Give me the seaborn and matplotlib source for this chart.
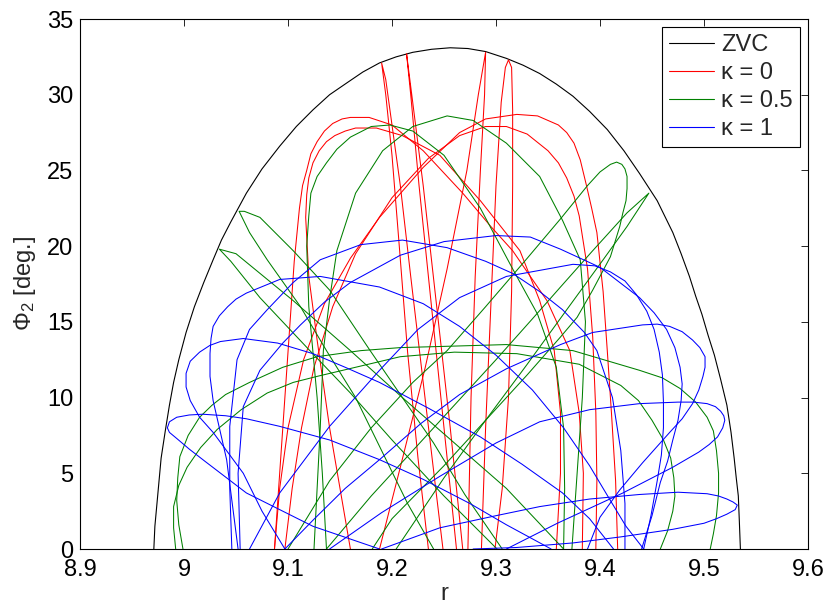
import pandas as pd
import matplotlib
matplotlib.use('Agg')
import matplotlib.pyplot as plt
from matplotlib.lines import Line2D
import seaborn as sns

# Zero velocity curve
zvc_r = [8.971, 8.972, 8.974, 8.976, 8.978, 8.982, 8.986, 8.99, 8.995, 9.002, 9.01, 9.019, 9.028,
         9.036, 9.045, 9.06, 9.075, 9.092, 9.108, 9.124, 9.14, 9.157, 9.172, 9.188, 9.204, 9.22,
         9.238, 9.256, 9.273, 9.29, 9.31, 9.326, 9.342, 9.358, 9.374, 9.39, 9.407, 9.423, 9.438,
         9.455, 9.47, 9.478, 9.486, 9.492, 9.498, 9.504, 9.51, 9.516, 9.522, 9.526, 9.529, 9.531,
         9.533, 9.534, 9.535]
zvc_phi = [0, 1.5, 3, 4.5, 6, 7.8, 9.5, 11, 12.5, 14.3, 16, 17.6, 19.1, 20.4, 21.6, 23.5, 25.1,
           26.6, 27.9, 29.0, 30.0, 30.8, 31.5, 32.1, 32.5, 32.8, 33.0, 33.1, 33.05, 32.85, 32.4,
           31.95, 31.4, 30.7, 29.9, 28.9, 27.7, 26.3, 24.8, 23.0, 20.9, 19.5, 18.0, 16.7, 15.5,
           14.1, 12.8, 11.2, 9.5, 7.7, 6.0, 4.7, 3.5, 1.8, 0]

# kappa = 0 trajectory arcs
red_r = [
    [9.087, 9.092, 9.097, 9.102, 9.106, 9.111, 9.114, 9.118, 9.122, 9.128, 9.135, 9.143, 9.152,
     9.16, 9.178, 9.2, 9.23, 9.268, 9.295, 9.316, 9.349, 9.371, 9.38, 9.384, 9.383],
    [9.16, 9.15, 9.14, 9.128, 9.12, 9.117, 9.118, 9.12, 9.124, 9.13, 9.137, 9.145, 9.155, 9.165,
     9.185, 9.21, 9.246, 9.285, 9.323, 9.342, 9.356, 9.362, 9.362, 9.358],
    [9.087, 9.092, 9.1, 9.115, 9.135, 9.16, 9.188, 9.23, 9.265, 9.29, 9.32, 9.34, 9.36, 9.368,
     9.375, 9.381, 9.387, 9.392, 9.397, 9.403, 9.407, 9.411, 9.415, 9.417],
    [9.097, 9.104, 9.113, 9.125, 9.143, 9.165, 9.2, 9.235, 9.265, 9.29, 9.31, 9.33, 9.35, 9.36,
     9.368, 9.375, 9.38, 9.388, 9.393, 9.396, 9.397, 9.396],
    [9.235, 9.225, 9.215, 9.207, 9.2, 9.194, 9.19, 9.194, 9.2, 9.208, 9.218, 9.23, 9.242, 9.249],
    [9.262, 9.25, 9.238, 9.226, 9.218, 9.214, 9.219, 9.23, 9.243, 9.256, 9.268],
    [9.188, 9.208, 9.232, 9.253, 9.272, 9.283, 9.29, 9.289, 9.285, 9.28, 9.276, 9.273],
    [9.286, 9.29, 9.295, 9.3, 9.305, 9.309, 9.312, 9.315, 9.316, 9.316, 9.315, 9.312, 9.306, 9.299],
]
red_phi = [
    [0, 5, 10, 15, 19, 22.5, 24, 25, 26.1, 26.9, 27.6, 28.1, 28.4, 28.5, 28.5, 28.0, 26.3, 23.5,
     21.3, 19.7, 16.4, 13.1, 9, 5, 0],
    [0, 4, 8, 13.8, 18, 21.9, 23.4, 24.5, 25.5, 26.3, 26.9, 27.3, 27.6, 27.8, 27.8, 27.3, 26.0,
     23, 19.7, 16.4, 13.1, 9, 5, 0],
    [0, 4, 8, 12.5, 16.2, 19.2, 21.9, 25.2, 27.5, 28.4, 28.7, 28.6, 28.0, 27.5, 26.8, 25.7, 24,
     22.5, 20.9, 17, 13.1, 9, 4.5, 0],
    [0, 4, 8, 12, 16, 19.5, 23.2, 25.8, 27.3, 27.9, 27.9, 27.4, 26.3, 25.5, 24.5, 23.3, 22, 18.5,
     14, 9, 4.5, 0],
    [0, 6, 13, 20, 26, 30, 32.1, 31, 28, 24, 18, 11, 4, 0],
    [0, 8, 16, 24, 30, 32.7, 30, 24, 16, 8, 0],
    [0, 5.4, 12, 18.5, 25, 30, 32.8, 30, 25, 18, 10, 0],
    [0, 8, 16, 24, 29.5, 31.8, 32.3, 31.8, 29, 24, 17, 10, 4, 0],
]

# kappa = 0.5 trajectory arcs
green_r = [
    [9.24, 9.215, 9.19, 9.165, 9.137, 9.112, 9.08, 9.063, 9.053, 9.058, 9.073, 9.105, 9.14, 9.179,
     9.21, 9.24, 9.27, 9.306],
    [9.301, 9.25, 9.2, 9.16, 9.121, 9.073, 9.045, 9.034, 9.05, 9.105, 9.16, 9.21, 9.26, 9.31, 9.365],
    [9.10, 9.14, 9.18, 9.22, 9.253, 9.29, 9.33, 9.362, 9.388, 9.4, 9.41, 9.416, 9.421, 9.424,
     9.426, 9.426, 9.425, 9.422, 9.419, 9.41, 9.393, 9.378, 9.362, 9.33, 9.29, 9.25, 9.2, 9.181],
    [9.137, 9.18, 9.22, 9.26, 9.3, 9.335, 9.362, 9.393, 9.426, 9.447, 9.426, 9.403, 9.368, 9.33,
     9.29, 9.25, 9.204],
    [9.125, 9.128, 9.131, 9.134, 9.14, 9.147, 9.165, 9.191, 9.22, 9.253, 9.278, 9.31, 9.342, 9.364,
     9.381, 9.386, 9.383, 9.378, 9.373],
    [9.137, 9.133, 9.128, 9.12, 9.118, 9.12, 9.122, 9.128, 9.137, 9.147, 9.16, 9.18, 9.198, 9.22,
     9.25, 9.285, 9.316, 9.34, 9.358, 9.365, 9.366, 9.365],
    [8.999, 8.995, 8.993, 8.994, 8.996, 9.004, 9.015, 9.027, 9.04, 9.063, 9.095, 9.128, 9.17, 9.208,
     9.26, 9.31, 9.374, 9.438, 9.46, 9.477, 9.492, 9.503, 9.509, 9.512, 9.514, 9.514, 9.512,
     9.509, 9.506],
    [8.992, 8.99, 8.99, 8.995, 9.003, 9.016, 9.032, 9.055, 9.08, 9.105, 9.128, 9.208, 9.26, 9.32,
     9.38, 9.42, 9.437, 9.45, 9.461, 9.468, 9.471, 9.472, 9.47, 9.465, 9.458],
]
green_phi = [
    [0, 3, 6.5, 10, 13.1, 16, 19.1, 20.9, 22.3, 22.3, 21.9, 19.7, 17.1, 13.1, 10, 7, 3.6, 0],
    [0, 3.5, 7.2, 10.3, 13.1, 16.6, 19, 19.8, 19.5, 16.4, 13.1, 10, 7, 4, 0],
    [0, 4.5, 8, 11, 13.1, 16, 19.2, 21.8, 24, 24.9, 25.4, 25.55, 25.4, 25.1, 24.6, 23.8, 23,
     22.2, 21.3, 19.3, 17.1, 15.3, 14, 11.5, 8.5, 5.5, 2, 0],
    [0, 3.5, 6.5, 9.5, 12.5, 15.2, 17.3, 19.7, 22.2, 23.5, 21.3, 19.1, 15.8, 12.2, 8.5, 4.7, 0],
    [0, 4, 8, 13.1, 16.5, 19.7, 23.5, 26.3, 27.9, 28.6, 28.3, 26.8, 24.6, 21.7, 19.1, 15, 10, 5, 0],
    [0, 5, 10, 16, 20, 22, 23.5, 24.6, 25.5, 26.4, 27.2, 27.9, 28, 27.6, 26, 22.5, 18.5, 15.5,
     12, 8, 4, 0],
    [0, 1.6, 3.2, 4.7, 6.1, 7.5, 8.7, 9.5, 10.2, 11.0, 12, 12.7, 13.1, 13.3, 13.4, 13.5, 13.1,
     11.8, 11.3, 10.6, 9.7, 8.7, 7.8, 6.5, 5, 3.7, 2.2, 1, 0],
    [0, 1.4, 2.8, 4.2, 5.4, 6.7, 7.9, 9.2, 10.3, 11, 11.4, 12.7, 13.0, 12.9, 12.2, 10.8, 9.8, 8.5,
     7.2, 6, 4.7, 3.5, 2.5, 1.2, 0],
]

# kappa = 1 trajectory arcs
blue_r = [
    [9.188, 9.124, 9.06, 9.02, 9.005, 8.993, 8.986, 8.984, 8.986, 8.993, 9.005, 9.018, 9.04, 9.06,
     9.092, 9.14, 9.188, 9.23, 9.275, 9.31, 9.353],
    [9.097, 9.075, 9.057, 9.028, 9.015, 9.006, 9.002, 9.002, 9.006, 9.015, 9.025, 9.035, 9.057,
     9.09, 9.124, 9.155, 9.188, 9.235, 9.285, 9.325, 9.364, 9.39, 9.413],
    [9.052, 9.041, 9.028, 9.025, 9.025, 9.026, 9.028, 9.034, 9.042, 9.05, 9.06, 9.092, 9.131,
     9.188, 9.23, 9.265, 9.3, 9.335, 9.365, 9.39, 9.41, 9.425, 9.442],
    [9.046, 9.044, 9.044, 9.051, 9.063, 9.08, 9.105, 9.131, 9.17, 9.21, 9.253, 9.29, 9.316, 9.342,
     9.364, 9.385, 9.397, 9.412, 9.42, 9.424, 9.424],
    [9.054, 9.052, 9.057, 9.073, 9.095, 9.112, 9.135, 9.16, 9.208, 9.25, 9.30, 9.333, 9.362, 9.40,
     9.438, 9.452, 9.464, 9.472, 9.477, 9.479, 9.478, 9.475, 9.47, 9.465, 9.458, 9.45, 9.44],
    [9.063, 9.092, 9.14, 9.188, 9.225, 9.265, 9.31, 9.374, 9.395, 9.41, 9.424, 9.435, 9.445, 9.452,
     9.457, 9.46, 9.461, 9.461, 9.459, 9.455, 9.449, 9.442],
    [9.097, 9.124, 9.155, 9.188, 9.228, 9.265, 9.31, 9.362, 9.393, 9.441, 9.455, 9.467, 9.479,
     9.489, 9.496, 9.501, 9.501, 9.499, 9.495, 9.489, 9.479, 9.467, 9.441, 9.419, 9.4, 9.388],
    [9.14, 9.19, 9.246, 9.3, 9.342, 9.39, 9.438, 9.475, 9.49, 9.503, 9.511, 9.516, 9.519, 9.52,
     9.518, 9.513, 9.505, 9.495, 9.47, 9.422, 9.359, 9.31],
    [9.19, 9.246, 9.3, 9.342, 9.39, 9.438, 9.475, 9.503, 9.514, 9.522, 9.528, 9.532, 9.53, 9.522,
     9.512, 9.5, 9.47, 9.42, 9.374, 9.32, 9.278],
]
blue_phi = [
    [0, 1.5, 3.7, 5.8, 6.6, 7.3, 7.7, 8.0, 8.4, 8.7, 8.85, 8.9, 8.8, 8.6, 8.1, 7.2, 5.9, 4.6, 3.0,
     1.6, 0],
    [0, 2.5, 5, 7.7, 8.7, 9.8, 10.7, 11.6, 12.4, 13.0, 13.45, 13.7, 13.9, 13.6, 12.9, 12.0, 11.0,
     9.3, 7.4, 5.6, 3.7, 2.0, 0],
    [0, 5.9, 9.8, 11.4, 12.9, 13.9, 14.7, 15.4, 16, 16.5, 16.9, 17.8, 18.0, 17.3, 16.2, 14.7, 12.8,
     10.5, 8, 5.5, 3.2, 1.5, 0],
    [0, 4, 8.1, 12.5, 14.5, 15.8, 17.6, 19.1, 20.1, 20.4, 19.9, 19, 18.2, 17, 15.8, 14.3, 13.1,
     10, 6.5, 3, 0],
    [0, 5, 9.4, 11.8, 13.6, 14.8, 16.3, 17.6, 19.4, 20.3, 20.7, 20.6, 19.8, 18.6, 16.6, 15.6,
     14.5, 13.3, 12.0, 10.9, 9.8, 8.5, 7.2, 5.8, 4.4, 2.2, 0],
    [0, 3.7, 8.1, 11.8, 14.5, 16.6, 18.0, 18.8, 18.7, 18.3, 17.7, 16.8, 15.7, 14.5, 13, 11.5, 9.7,
     8, 6.2, 4.5, 2.2, 0],
    [0, 1.9, 4, 5.9, 8.3, 10.2, 11.9, 13.5, 14.3, 14.8, 14.85, 14.7, 14.35, 13.8, 13.3, 12.7, 12.0,
     11.4, 10.5, 9.6, 8.6, 7.7, 5.7, 3.9, 2.1, 0],
    [0, 2.4, 4.8, 7, 8.4, 9.2, 9.6, 9.7, 9.7, 9.6, 9.4, 9.1, 8.8, 8.5, 8.0, 7.4, 6.9, 6.4, 5.4,
     3.7, 1.7, 0],
    [0, 1.4, 2.2, 2.8, 3.3, 3.6, 3.75, 3.65, 3.5, 3.3, 3.1, 2.9, 2.6, 2.3, 2.0, 1.7, 1.3, 0.8,
     0.4, 0.1, 0],
]

labels = ['κ = 0', 'κ = 0.5', 'κ = 1']
colors = {'ZVC': 'black', 'κ = 0': (1, 0, 0), 'κ = 0.5': (0, 0.5, 0), 'κ = 1': (0, 0, 1)}

# long table: one row per point, arcs kept apart by an id
rows = []
for lab, rr, pp in zip(labels, [red_r, green_r, blue_r], [red_phi, green_phi, blue_phi]):
    for k, (r, p) in enumerate(zip(rr, pp)):
        for i, (x, y) in enumerate(zip(r, p)):
            rows.append({'r': x, 'phi': y, 'set': lab, 'arc': f'{lab}-{k}', 'i': i})
traj = pd.DataFrame(rows)
zvc = pd.DataFrame({'r': zvc_r, 'phi': zvc_phi})

sns.set_style('white')
plt.rcParams['font.family'] = ['Liberation Sans', 'DejaVu Sans']
plt.rcParams['mathtext.fontset'] = 'custom'
plt.rcParams['mathtext.rm'] = 'Liberation Sans'
plt.rcParams['mathtext.it'] = 'Liberation Sans:italic'

fig = plt.figure(figsize=(8.3, 6.09), dpi=100)
ax = fig.add_axes([80 / 830, 60 / 609, 728 / 830, 530 / 609])

sns.lineplot(data=zvc, x='r', y='phi', color='black', linewidth=0.8, sort=False,
             estimator=None, ax=ax)
for lab in labels:
    sub = traj[traj['set'] == lab]
    sns.lineplot(data=sub, x='r', y='phi', units='arc', estimator=None, sort=False,
                 color=colors[lab], linewidth=0.75, ax=ax)

ax.set_xlim(8.9, 9.6)
ax.set_ylim(0, 35)
ax.set_xticks([8.9, 9.0, 9.1, 9.2, 9.3, 9.4, 9.5, 9.6])
ax.set_xticklabels(['8.9', '9', '9.1', '9.2', '9.3', '9.4', '9.5', '9.6'])
ax.set_yticks(range(0, 36, 5))
ax.tick_params(direction='in', length=5, width=0.6, top=True, right=True, labelsize=17,
               colors='black')
ax.tick_params(axis='x', pad=7)
ax.tick_params(axis='y', pad=5)
for s in ax.spines.values():
    s.set_visible(True)
    s.set_color('black')
    s.set_linewidth(0.8)
ax.set_xlabel('r', fontsize=17, labelpad=2)
ax.set_ylabel(r'$\Phi_2$ [deg.]', fontsize=17, labelpad=6)

handles = [Line2D([], [], color=colors[k], linewidth=0.8) for k in ['ZVC'] + labels]
leg = ax.legend(handles, ['ZVC'] + labels, loc='upper right', fontsize=17, frameon=True,
                fancybox=False, edgecolor='black', framealpha=1, handlelength=1.9,
                handletextpad=0.3, labelspacing=0.25, borderpad=0.3, borderaxespad=0.35)
leg.get_frame().set_linewidth(0.8)

fig.savefig('out.png', dpi=100)
